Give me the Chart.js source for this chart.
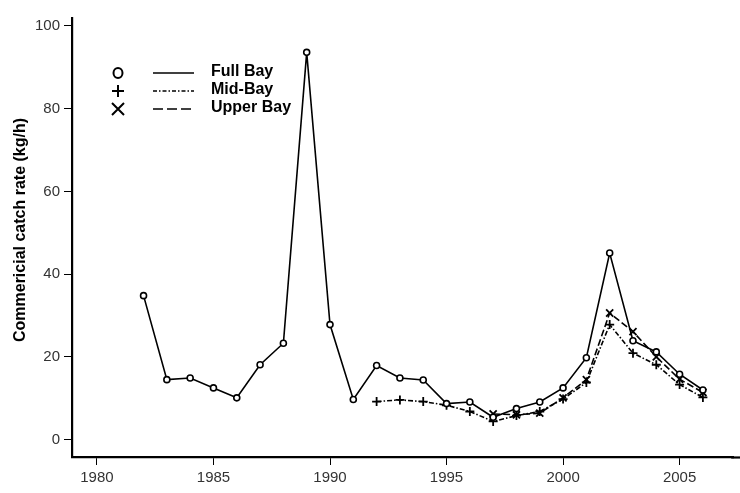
<!DOCTYPE html>
<html>
<head>
<meta charset="utf-8">
<script src="https://cdn.jsdelivr.net/npm/chart.js@4"></script>
<style>
  body { margin: 0; background: #fff; }
  #wrap { width: 740px; height: 493px; }
</style>
</head>
<body>
<div id="wrap"><canvas id="catchChart" width="740" height="493"></canvas></div>
<script>
// Commercial catch rates by survey area
const years = [1982, 1983, 1984, 1985, 1986, 1987, 1988, 1989, 1990, 1991, 1992, 1993,
               1994, 1995, 1996, 1997, 1998, 1999, 2000, 2001, 2002, 2003, 2004, 2005, 2006];
const fullBay = [34.8, 14.5, 14.9, 12.5, 10.1, 18.1, 23.3, 93.6, 27.8, 9.7, 17.9, 14.9,
                 14.4, 8.7, 9.1, 5.4, 7.5, 9.1, 12.5, 19.8, 45.1, 23.9, 21.2, 15.8, 12.0];
const midBay = [null, null, null, null, null, null, null, null, null, null, 9.2, 9.6,
                9.2, 8.3, 6.8, 4.4, 5.8, 6.8, 9.8, 13.8, 27.8, 20.9, 18.1, 13.3, 10.2];
const upperBay = [null, null, null, null, null, null, null, null, null, null, null, null,
                  null, null, null, 6.2, 6.0, 6.4, 10.1, 14.5, 30.6, 26.1, 20.0, 14.6, 11.4];
const xTicks = [1980, 1985, 1990, 1995, 2000, 2005];
const yTicks = [0, 20, 40, 60, 80, 100];
const seriesNames = ['Full Bay', 'Mid-Bay', 'Upper Bay'];
const yTitle = 'Commericial catch rate (kg/h)';

const toPoints = vals => vals.map((v, i) => ({ x: years[i], y: v }));

const tickFont = { family: 'Liberation Sans, Arial, sans-serif', size: 15 };
const boldFont = 'bold 16px "Liberation Sans", Arial, sans-serif';

// legend + axis title drawn by hand so they sit where they should
const extras = {
    id: 'extras',
    afterDraw(chart) {
        const ctx = chart.ctx;
        const area = chart.chartArea;
        ctx.save();
        ctx.strokeStyle = '#000';
        ctx.fillStyle = '#000';

        // run the x axis line on to the canvas edge
        const axisY = Math.round(area.bottom) + 0.5;
        ctx.lineWidth = 2.2;
        ctx.beginPath();
        ctx.moveTo(area.right - 2, axisY);
        ctx.lineTo(chart.width, axisY);
        ctx.stroke();

        // y axis title
        ctx.font = boldFont;
        ctx.textAlign = 'center';
        ctx.textBaseline = 'middle';
        ctx.translate(21, 230);
        ctx.rotate(-Math.PI / 2);
        ctx.fillText(yTitle, 0, 0);
        ctx.setTransform(1, 0, 0, 1, 0, 0);

        // legend symbols
        ctx.lineWidth = 2;
        ctx.beginPath();
        ctx.ellipse(118, 73, 4.5, 5, 0, 0, Math.PI * 2);
        ctx.stroke();
        ctx.beginPath();
        ctx.moveTo(112, 91); ctx.lineTo(124, 91);
        ctx.moveTo(118, 85); ctx.lineTo(118, 97);
        ctx.moveTo(112, 103); ctx.lineTo(124, 115);
        ctx.moveTo(124, 103); ctx.lineTo(112, 115);
        ctx.stroke();

        // legend lines
        const dashes = [[], [4, 2, 1.5, 2], [10, 4]];
        const rows = [73, 91, 109];
        ctx.lineWidth = 1.6;
        rows.forEach((y, i) => {
            ctx.setLineDash(dashes[i]);
            ctx.beginPath();
            ctx.moveTo(153, y);
            ctx.lineTo(194, y);
            ctx.stroke();
        });
        ctx.setLineDash([]);

        ctx.textAlign = 'left';
        seriesNames.forEach((name, i) => {
            ctx.fillText(name, 211, rows[i] - 1.5);
        });
        ctx.restore();
    }
};

new Chart(document.getElementById('catchChart'), {
    type: 'line',
    data: {
        datasets: [{
            label: seriesNames[0],
            data: toPoints(fullBay),
            borderColor: '#000',
            borderWidth: 1.6,
            pointStyle: 'circle',
            pointRadius: 3,
            pointBorderWidth: 1.6,
            pointBackgroundColor: '#fff',
            pointBorderColor: '#000'
        }, {
            label: seriesNames[1],
            data: toPoints(midBay),
            borderColor: '#000',
            borderWidth: 1.6,
            borderDash: [5, 2, 1.5, 2],
            pointStyle: 'cross',
            pointRadius: 4.5,
            pointBorderWidth: 1.8,
            pointBorderColor: '#000'
        }, {
            label: seriesNames[2],
            data: toPoints(upperBay),
            borderColor: '#000',
            borderWidth: 1.6,
            borderDash: [7, 3],
            pointStyle: 'crossRot',
            pointRadius: 5,
            pointBorderWidth: 1.8,
            pointBorderColor: '#000'
        }]
    },
    options: {
        responsive: false,
        animation: false,
        layout: { padding: { top: 18, right: 0, left: 0, bottom: 0 } },
        plugins: {
            legend: { display: false },
            tooltip: { enabled: false }
        },
        elements: { line: { tension: 0 } },
        scales: {
            x: {
                type: 'linear',
                min: 1978.93,
                max: 2007.30,
                afterBuildTicks: s => { s.ticks = xTicks.map(v => ({ value: v })); },
                afterFit: s => { s.height = 36; },
                grid: {
                    drawOnChartArea: false,
                    tickLength: 8,
                    tickColor: '#000',
                    tickWidth: 1
                },
                border: { color: '#000', width: 2.2 },
                ticks: {
                    color: '#333',
                    font: tickFont,
                    padding: 4,
                    maxRotation: 0,
                    callback: v => String(v)
                }
            },
            y: {
                min: -4.2,
                max: 101.9,
                afterBuildTicks: s => { s.ticks = yTicks.map(v => ({ value: v })); },
                afterFit: s => { s.width = 72; },
                grid: {
                    drawOnChartArea: false,
                    tickLength: 8,
                    tickColor: '#000',
                    tickWidth: 1
                },
                border: { color: '#000', width: 2.2 },
                ticks: {
                    color: '#333',
                    font: tickFont,
                    padding: 4
                }
            }
        }
    },
    plugins: [extras]
});
</script>
</body>
</html>
